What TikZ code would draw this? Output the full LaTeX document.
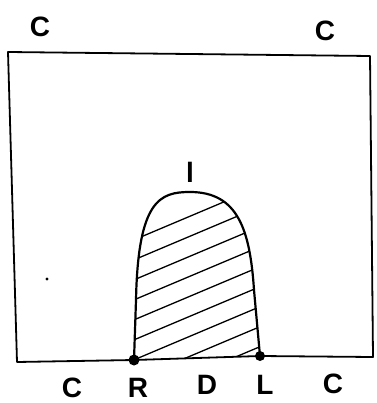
\documentclass[tikz,border=0pt]{standalone}
\usepackage{fontspec}
\setmainfont{Liberation Sans}
\begin{document}
\begin{tikzpicture}[x=1pt,y=-1pt,
  lbl/.style={font=\fontsize{28}{28}\selectfont\bfseries, inner sep=0pt},
  dotpt/.style={circle, fill=black, inner sep=0pt, minimum size=11pt},
  edge/.style={line width=1.8pt, line join=round},
  archline/.style={line width=2.2pt, line join=round},
  hatch/.style={line width=1.3pt, line cap=round}]
\useasboundingbox (0,0) rectangle (376,403);
% outer box
\coordinate (TL) at (8,52);
\coordinate (TR) at (370,56);
\coordinate (BR) at (373,357);
\coordinate (BL) at (17,362);
\node[dotpt] (R) at (134,360) {};
\node[dotpt, minimum size=10pt] (L) at (260,356) {};
\draw[edge] (TL) -- (TR) -- (BR) -- (L.center) -- (R.center) -- (BL) -- cycle;
% hatching inside arch
\begin{scope}
\path[clip] (R.center) -- (136,300) .. controls (138,200) and (160,192) .. (190,192)
   .. controls (238,192) and (250,230) .. (254,290) -- (L.center) -- cycle;
\foreach \i in {0,...,9} {
  \draw[hatch] (110,250+20*\i) -- (290,250+20*\i-76);
}
\end{scope}
% arch outline
\draw[archline] (R.center) -- (136,300) .. controls (138,200) and (160,192) .. (190,192)
   .. controls (238,192) and (250,230) .. (254,290) -- (L.center);
\node[lbl] (cTL) at (40,27) {C};
\node[lbl] (cTR) at (325,31) {C};
\node[lbl] (ell) at (190,172) {l};
\node[lbl] (cB1) at (72,388) {C};
\node[lbl] (rB) at (138,388) {R};
\node[lbl] (dB) at (207,385) {D};
\node[lbl] (lB) at (265,385) {L};
\node[lbl] (cB2) at (333,384) {C};
\fill (47,279) circle (1.6pt);
\end{tikzpicture}
\end{document}
